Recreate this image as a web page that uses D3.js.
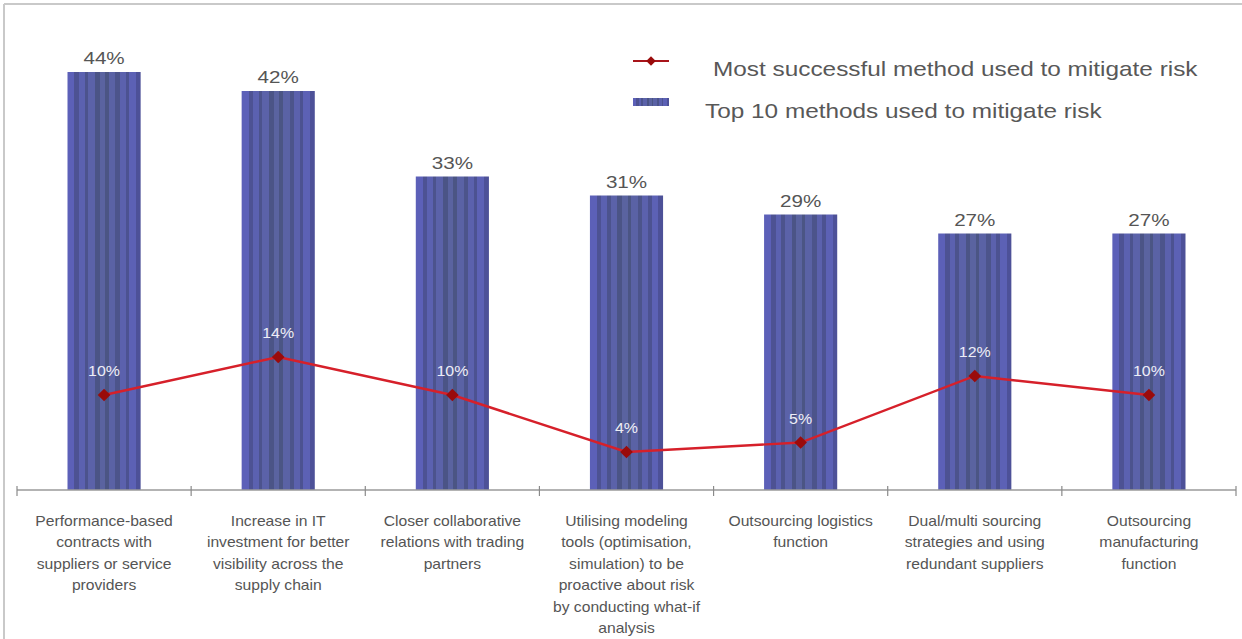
<!DOCTYPE html>
<html>
<head>
<meta charset="utf-8">
<script src="https://cdn.jsdelivr.net/npm/d3@7"></script>
<style>
  html, body { margin: 0; padding: 0; background: #ffffff; }
  svg { display: block; font-family: Arial, "Liberation Sans", Helvetica, sans-serif; }
</style>
</head>
<body>
<svg id="chart" width="1242" height="639"></svg>
<script>
// Risk mitigation methods (category labels, split into lines)
const categories = [
  ["Performance-based", "contracts with", "suppliers or service", "providers"],
  ["Increase in IT", "investment for better", "visibility across the", "supply chain"],
  ["Closer collaborative", "relations with trading", "partners"],
  ["Utilising modeling", "tools (optimisation,", "simulation) to be", "proactive about risk", "by conducting what-if", "analysis"],
  ["Outsourcing logistics", "function"],
  ["Dual/multi sourcing", "strategies and using", "redundant suppliers"],
  ["Outsourcing", "manufacturing", "function"]
];
// Share of respondents (%)
const topTenValues = [44, 42, 33, 31, 29, 27, 27];
const mostSuccessfulValues = [10, 14, 10, 4, 5, 12, 10];
const seriesNames = ["Most successful method used to mitigate risk", "Top 10 methods used to mitigate risk"];

const svg = d3.select("#chart");
const W = 1242, H = 639;
const baseY = 490, axisLeft = 17, axisRight = 1236;

// outer frame (top and left edges)
svg.append("line").attr("x1", 4).attr("x2", W).attr("y1", 4).attr("y2", 4)
  .attr("stroke", "#c9c9c9").attr("stroke-width", 2);
svg.append("line").attr("x1", 4).attr("x2", 4).attr("y1", 4).attr("y2", H)
  .attr("stroke", "#c9c9c9").attr("stroke-width", 2);

const idx = d3.range(categories.length);
const x = d3.scaleBand().domain(idx).range([axisLeft, axisRight]).padding(0);
const y = d3.scaleLinear().domain([0, 50]).range([baseY, baseY - 475]);
const barW = x.bandwidth() * 0.42;

// striped bar fill
const defs = svg.append("defs");
const grad = defs.append("linearGradient").attr("id", "barStripes")
  .attr("x1", 0).attr("x2", 1).attr("y1", 0).attr("y2", 0);
const stripeWidths = [6, 4, 5, 3, 6, 4, 5, 3, 6, 4, 5, 3, 6, 4];
const total = d3.sum(stripeWidths);
let acc = 0;
const edgeLight = d3.color("#5c60bb"), midLight = d3.color("#5a639f");
const edgeDark = d3.color("#4d5199"), midDark = d3.color("#4b5582");
stripeWidths.forEach((w, i) => {
  const t0 = acc / total, t1 = (acc + w) / total;
  const c = (t0 + t1) / 2;
  const k = 1 - Math.abs(c - 0.5) * 2; // 0 at edges, 1 at centre
  const col = i % 2 === 0
    ? d3.interpolateRgb(edgeLight, midLight)(k)
    : d3.interpolateRgb(edgeDark, midDark)(k);
  grad.append("stop").attr("offset", t0).attr("stop-color", col);
  grad.append("stop").attr("offset", t1).attr("stop-color", col);
  acc += w;
});

// bars
svg.append("g").selectAll("rect").data(topTenValues).join("rect")
  .attr("x", (d, i) => x(i) + x.bandwidth() / 2 - barW / 2)
  .attr("y", d => y(d))
  .attr("width", barW)
  .attr("height", d => baseY - y(d))
  .attr("fill", "url(#barStripes)");

// bar value labels
function stretchedText(g, tx, ty, str, size, sx, fill) {
  g.append("text")
    .attr("transform", `translate(${tx},${ty}) scale(${sx},1)`)
    .attr("text-anchor", "middle")
    .attr("font-size", size)
    .attr("fill", fill)
    .text(str);
}
const barLabels = svg.append("g");
topTenValues.forEach((v, i) => {
  stretchedText(barLabels, x(i) + x.bandwidth() / 2, y(v) - 8, v + "%", 16.5, 1.25, "#555555");
});

// x axis
const axis = svg.append("g");
axis.append("line").attr("x1", axisLeft).attr("x2", axisRight)
  .attr("y1", baseY).attr("y2", baseY).attr("stroke", "#9a9a9a").attr("stroke-width", 1.5);
const tickXs = idx.map(i => x(i)).concat([x(idx.length - 1) + x.bandwidth()]);
axis.selectAll("line.tick").data(tickXs).join("line").attr("class", "tick")
  .attr("x1", d => d).attr("x2", d => d)
  .attr("y1", baseY - 4).attr("y2", baseY + 6)
  .attr("stroke", "#8a8a8a").attr("stroke-width", 1.2);

// category labels
const catG = svg.append("g");
categories.forEach((lines, i) => {
  lines.forEach((ln, j) => {
    stretchedText(catG, x(i) + x.bandwidth() / 2, 526 + j * 21.4, ln, 14.5, 1.08, "#555555");
  });
});

// line series
const line = d3.line().x((d, i) => x(i) + x.bandwidth() / 2).y(d => y(d));
svg.append("path").datum(mostSuccessfulValues)
  .attr("d", line).attr("fill", "none")
  .attr("stroke", "#d6202a").attr("stroke-width", 2.4);
const marker = d3.symbol().type(d3.symbolSquare).size(80);
svg.append("g").selectAll("path").data(mostSuccessfulValues).join("path")
  .attr("d", marker)
  .attr("transform", (d, i) => `translate(${x(i) + x.bandwidth() / 2},${y(d)}) rotate(45)`)
  .attr("fill", "#9a0b0b");
const lineLabels = svg.append("g");
mostSuccessfulValues.forEach((v, i) => {
  stretchedText(lineLabels, x(i) + x.bandwidth() / 2, y(v) - 19, v + "%", 14.5, 1.1, "#eeeef6");
});

// legend
const lg = svg.append("g");
lg.append("line").attr("x1", 633).attr("x2", 669).attr("y1", 61).attr("y2", 61)
  .attr("stroke", "#a8141a").attr("stroke-width", 2);
lg.append("path").attr("d", d3.symbol().type(d3.symbolSquare).size(45))
  .attr("transform", "translate(651,61) rotate(45)").attr("fill", "#9a0b0b");
lg.append("rect").attr("x", 633).attr("y", 98).attr("width", 36).attr("height", 8)
  .attr("fill", "url(#barStripes)");
lg.append("text").attr("transform", "translate(713,76) scale(1.16,1)")
  .attr("font-size", 21).attr("fill", "#585858").text(seriesNames[0]);
lg.append("text").attr("transform", "translate(705,118) scale(1.16,1)")
  .attr("font-size", 21).attr("fill", "#585858").text(seriesNames[1]);
</script>
</body>
</html>
